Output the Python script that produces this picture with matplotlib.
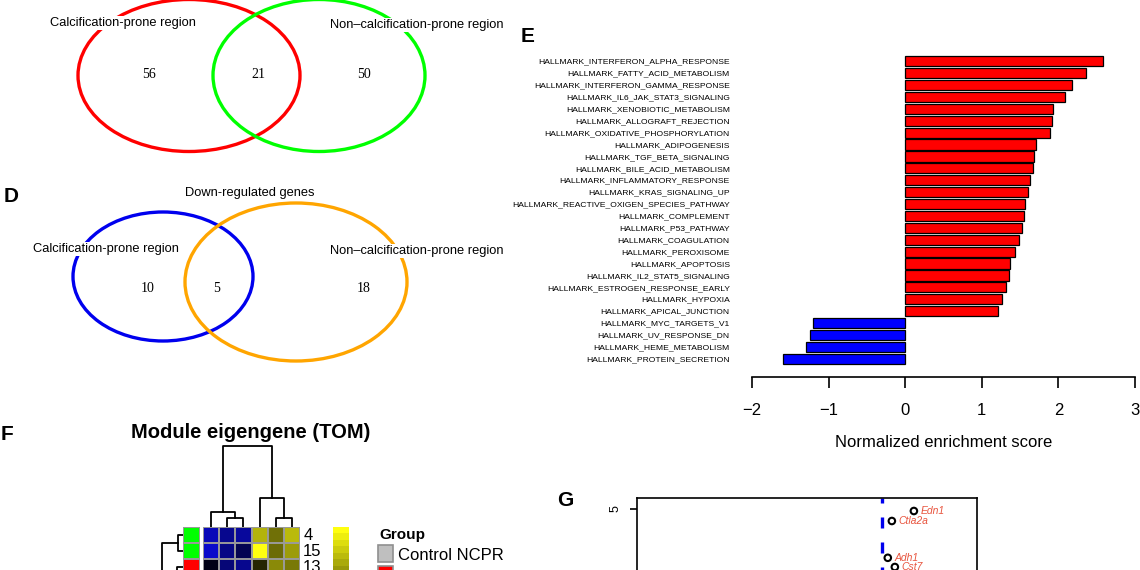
import matplotlib.pyplot as plt
import numpy as np
from matplotlib.patches import Ellipse, Rectangle
from matplotlib.colors import LinearSegmentedColormap

plt.rcParams['font.family'] = ['Liberation Sans', 'DejaVu Sans']

# ---- data ----
set_names = ["Calcification-prone region", "Non\u2013calcification-prone region"]
venn_up_counts = [56, 21, 50]
venn_down_title = "Down-regulated genes"
venn_down_counts = [10, 5, 18]

hallmark_names = [
    "HALLMARK_INTERFERON_ALPHA_RESPONSE", "HALLMARK_FATTY_ACID_METABOLISM",
    "HALLMARK_INTERFERON_GAMMA_RESPONSE", "HALLMARK_IL6_JAK_STAT3_SIGNALING",
    "HALLMARK_XENOBIOTIC_METABOLISM", "HALLMARK_ALLOGRAFT_REJECTION",
    "HALLMARK_OXIDATIVE_PHOSPHORYLATION", "HALLMARK_ADIPOGENESIS",
    "HALLMARK_TGF_BETA_SIGNALING", "HALLMARK_BILE_ACID_METABOLISM",
    "HALLMARK_INFLAMMATORY_RESPONSE", "HALLMARK_KRAS_SIGNALING_UP",
    "HALLMARK_REACTIVE_OXIGEN_SPECIES_PATHWAY", "HALLMARK_COMPLEMENT",
    "HALLMARK_P53_PATHWAY", "HALLMARK_COAGULATION", "HALLMARK_PEROXISOME",
    "HALLMARK_APOPTOSIS", "HALLMARK_IL2_STAT5_SIGNALING",
    "HALLMARK_ESTROGEN_RESPONSE_EARLY", "HALLMARK_HYPOXIA",
    "HALLMARK_APICAL_JUNCTION", "HALLMARK_MYC_TARGETS_V1",
    "HALLMARK_UV_RESPONSE_DN", "HALLMARK_HEME_METABOLISM",
    "HALLMARK_PROTEIN_SECRETION",
]
nes = [2.58, 2.36, 2.18, 2.08, 1.93, 1.92, 1.89, 1.71, 1.68, 1.67, 1.63, 1.60,
       1.56, 1.55, 1.52, 1.48, 1.43, 1.37, 1.36, 1.31, 1.26, 1.21,
       -1.20, -1.24, -1.30, -1.59]
nes_ticks = [-2, -1, 0, 1, 2, 3]

module_rows = ["4", "15", "13"]
module_groups = ["#00ff00", "#00ff00", "#ff0000"]
# first three columns use the blue scale, last three the yellow scale
module_values = np.array([
    [0.80, 0.62, 0.68, 0.70, 0.44, 0.73],
    [0.88, 0.58, 0.36, 1.00, 0.42, 0.61],
    [0.10, 0.52, 0.62, 0.15, 0.54, 0.48],
])
# column dendrogram merges (left, right, height) like a linkage matrix
col_merges = [[1, 2, 9], [4, 5, 9], [0, 6, 15], [3, 7, 29], [8, 9, 81]]

genes = ["Edn1", "Ctla2a", "Adh1", "Cst7"]
gene_logfc = [2.18, 1.37, 1.22, 1.48]
gene_logp = [4.95, 4.70, 3.78, 3.55]
fc_cut = 1.0

W, H = 1140, 570
fig = plt.figure(figsize=(W / 100, H / 100), dpi=100)


def px_axes(x0, y0, x1, y1):
    return fig.add_axes([x0 / W, 1 - y1 / H, (x1 - x0) / W, (y1 - y0) / H])


# overlay in pixel coordinates for venns, letters and legend
ov = px_axes(0, 0, W, H)
ov.set_xlim(0, W)
ov.set_ylim(H, 0)
ov.axis('off')

venn_font = dict(fontsize=9.3, ha='center', va='center', zorder=5,
                 bbox=dict(fc='white', ec='none', pad=1))
num_font = dict(fontsize=10, ha='center', va='center', family='Liberation Serif')

# top venn (up-regulated)
ov.add_patch(Ellipse((189, 75.5), 222, 152, fill=False, ec='#ff0000', lw=2.4))
ov.add_patch(Ellipse((319, 75.5), 212, 152, fill=False, ec='#00ff00', lw=2.4))
ov.text(123, 23, set_names[0], **venn_font)
ov.text(417, 25, set_names[1], **venn_font)
for xx, c in zip([149, 258, 364], venn_up_counts):
    ov.text(xx, 75, str(c), **num_font)

# venn D (down-regulated)
ov.add_patch(Ellipse((163, 276.5), 180, 129, fill=False, ec='#0000ee', lw=2.4))
ov.add_patch(Ellipse((296, 282), 222, 158, fill=False, ec='#ffa500', lw=2.4))
ov.text(250, 193, venn_down_title, **venn_font)
ov.text(106, 249, set_names[0], **venn_font)
ov.text(417, 251, set_names[1], **venn_font)
for xx, c in zip([148, 217, 364], venn_down_counts):
    ov.text(xx, 289, str(c), **num_font)

# panel letters
for lab, xx, yy in [("D", 11, 197), ("E", 528, 36), ("F", 7, 434), ("G", 565, 500)]:
    ov.text(xx, yy, lab, fontsize=15, fontweight='bold', ha='center', va='center')

# ---- panel E: GSEA NES ----
ax = px_axes(752, 54.1, 1135, 365.9)
y = np.arange(len(nes))
cols = ['#ff0000' if v > 0 else '#0000ff' for v in nes]
ax.barh(y, nes, height=0.85, color=cols, edgecolor='black', linewidth=0.9)
ax.set_xlim(-2, 3)
ax.set_ylim(len(nes) - 0.4, -0.6)
ax.set_yticks(y)
ax.set_yticklabels(hallmark_names, fontsize=6.1)
ax.tick_params(axis='y', length=0, pad=16)
for s in ['top', 'right', 'left']:
    ax.spines[s].set_visible(False)
ax.spines['bottom'].set_position(('outward', 8))
ax.spines['bottom'].set_linewidth(1.2)
ax.set_xticks(nes_ticks)
ax.set_xticklabels(["\u22122", "\u22121", "0", "1", "2", "3"])
ax.tick_params(axis='x', length=8, width=1.2, labelsize=12, pad=11)
ax.set_xlabel("Normalized enrichment score", fontsize=12, labelpad=12)

# ---- panel F: module eigengene heatmap ----
ov.text(251, 433, "Module eigengene (TOM)", fontsize=14.5, fontweight='bold',
        ha='center', va='center')

blue_map = LinearSegmentedColormap.from_list('bl', ['#000000', '#0c0ce6'])
yel_map = LinearSegmentedColormap.from_list('yl', ['#000000', '#ffff10'])
rgb = np.zeros(module_values.shape + (3,))
rgb[:, :3] = blue_map(module_values[:, :3])[..., :3]
rgb[:, 3:] = yel_map(module_values[:, 3:])[..., :3]

nr, nc = module_values.shape
axh = px_axes(203, 527, 300, 527 + 16 * nr)
axh.imshow(rgb, aspect='auto', extent=(0, nc, nr, 0), interpolation='nearest')
for i in range(nc + 1):
    axh.axvline(i, color='#9a9a9a', lw=1.4)
for j in range(nr + 1):
    axh.axhline(j, color='#9a9a9a', lw=1.4)
axh.set_xlim(0, nc)
axh.set_ylim(nr, 0)
axh.axis('off')
for j, lab in enumerate(module_rows):
    axh.text(nc + 0.2, j + 0.55, lab, fontsize=12, ha='left', va='center',
             clip_on=False)

# group side colours
axs = px_axes(183, 527, 200, 527 + 16 * nr)
for j, c in enumerate(module_groups):
    axs.add_patch(Rectangle((0, j), 1, 1, fc=c, ec='#9a9a9a', lw=1.4))
axs.set_xlim(0, 1)
axs.set_ylim(nr, 0)
axs.axis('off')

# column dendrogram
axd = px_axes(203, 440, 300, 527)
pos = {i: (i + 0.5, 0) for i in range(nc)}
for k, (a, b, h) in enumerate(col_merges):
    xa, ha_ = pos[a]
    xb, hb = pos[b]
    axd.plot([xa, xa, xb, xb], [ha_, h, h, hb], color='black', lw=1.3)
    pos[nc + k] = ((xa + xb) / 2, h)
axd.set_xlim(0, nc)
axd.set_ylim(0, 87)
axd.axis('off')

# row dendrogram (only the top part is visible)
axr = px_axes(150, 527, 183, 527 + 16 * nr)
axr.plot([0, 5, 5, 0], [0.5, 0.5, 1.5, 1.5], color='black', lw=1.3)
axr.plot([5, 21, 21], [1.0, 1.0, nr + 1], color='black', lw=1.3)
axr.plot([0, 6, 6], [2.5, 2.5, nr + 1], color='black', lw=1.3)
axr.set_xlim(33, 0)
axr.set_ylim(nr, 0)
axr.axis('off')

# colour key
axk = px_axes(333, 527, 349, 631)
steps = np.linspace(1, 0, 16).reshape(-1, 1)
axk.imshow(yel_map(steps), aspect='auto', interpolation='nearest')
axk.axis('off')

# legend
ov.text(379, 535, "Group", fontsize=11, fontweight='bold', ha='left', va='center')
ov.add_patch(Rectangle((378, 545), 15, 17, fc='#bfbfbf', ec='#8f8f8f', lw=1.2))
ov.text(398, 555, "Control NCPR", fontsize=12, ha='left', va='center')
ov.add_patch(Rectangle((378, 566), 15, 17, fc='#ff0000', ec='#8f8f8f', lw=1.2))

# ---- panel G: volcano ----
axg = px_axes(637, 498, 977, 709)
axg.set_xlim(-8, 4.5)
axg.set_ylim(0, 5.275)
axg.axvline(fc_cut, color='#0000ee', lw=2.4, linestyle=(2.1, (3.3, 4.2)))
axg.scatter(gene_logfc, gene_logp, s=22, facecolors='none', edgecolors='black',
            linewidths=1.5, zorder=3)
for g, xx, yy in zip(genes, gene_logfc, gene_logp):
    axg.annotate(g, (xx, yy), xytext=(5, 0), textcoords='offset points',
                 fontsize=7.5, style='italic', color='#e8553f', va='center')
axg.set_yticks([0, 5])
axg.set_xticks([])
axg.tick_params(axis='y', length=5, width=1.2, labelsize=9, pad=6,
                labelrotation=90)
for lab in axg.get_yticklabels():
    lab.set_va('center')
for s in axg.spines.values():
    s.set_linewidth(1.2)

fig.savefig("out.png", dpi=100)
